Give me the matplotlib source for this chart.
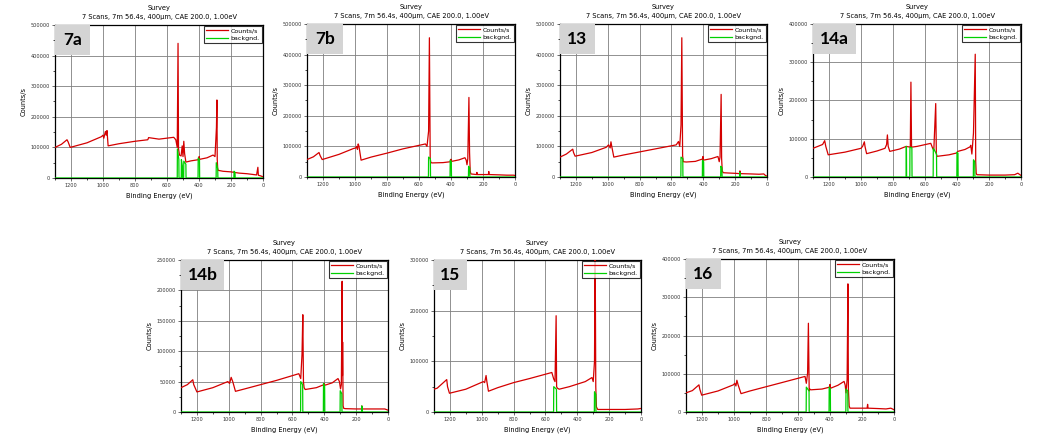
import matplotlib
matplotlib.use("Agg")
import matplotlib.pyplot as plt
from matplotlib.patches import Rectangle

# survey spectra, points (binding energy eV, counts/s)
be_7a = [1300, 1260, 1225, 1218, 1205, 1100, 1010, 1000, 995, 985, 980, 975, 968, 900, 800, 720, 715, 650, 558,
         545, 536, 531, 528, 522, 512, 505, 500, 495, 490, 482, 450, 402, 399, 396, 350, 312, 300, 291, 288, 286,
         283, 280, 250, 200, 150, 100, 40, 32, 29, 15, 0]
cps_7a = [100000, 110000, 125000, 118000, 100000, 115000, 135000, 140000, 130000, 152000, 140000, 155000, 105000,
          112000, 120000, 125000, 132000, 127000, 133000, 125000, 100000, 440000, 95000, 75000, 72000, 105000, 70000,
          120000, 80000, 52000, 56000, 60000, 70000, 61000, 66000, 75000, 70000, 165000, 255000, 60000, 30000,
          25000, 22000, 20000, 16000, 14000, 10000, 35000, 9000, 7000, 4000]
bg_be_7a = [1300, 536, 535, 526, 525, 511, 510, 504, 503, 496, 495, 482, 481, 406, 405, 397, 396, 293, 292, 283, 282,
            182, 181, 175, 174, 0]
bg_7a = [0, 0, 95000, 60000, 0, 0, 60000, 40000, 0, 0, 55000, 45000, 0, 0, 65000, 60000, 0, 0, 50000, 30000, 0,
         0, 22000, 18000, 0, 0]

be_7b = [1300, 1260, 1225, 1218, 1205, 1100, 1010, 995, 990, 985, 980, 975, 962, 900, 800, 700, 560, 550, 540, 535,
         530, 526, 520, 450, 402, 400, 397, 350, 313, 305, 300, 295, 288, 284, 280, 276, 240, 238, 236, 200, 166,
         164, 162, 100, 50, 10, 0]
cps_7b = [57000, 66000, 80000, 70000, 57000, 74000, 93000, 95000, 100000, 90000, 108000, 100000, 55000, 65000,
          78000, 92000, 108000, 100000, 150000, 455000, 60000, 48000, 46000, 47000, 50000, 58000, 51000, 56000,
          63000, 55000, 40000, 60000, 260000, 80000, 20000, 10000, 8000, 15000, 8000, 8000, 8000, 18000, 8000,
          7000, 6000, 6000, 5000]
bg_be_7b = [1300, 541, 540, 529, 528, 406, 405, 398, 397, 291, 290, 283, 282, 0]
bg_7b = [0, 0, 65000, 60000, 0, 0, 55000, 50000, 0, 0, 35000, 30000, 0, 0]

be_13 = [1300, 1260, 1220, 1215, 1205, 1100, 1010, 995, 985, 980, 975, 962, 900, 800, 700, 570, 556, 548, 540, 535,
         530, 526, 507, 450, 404, 402, 400, 350, 308, 300, 295, 288, 285, 281, 275, 240, 200, 172, 170, 168, 100,
         50, 20, 10, 0]
cps_13 = [65000, 75000, 91000, 80000, 68000, 80000, 97000, 105000, 95000, 115000, 100000, 65000, 72000, 82000,
          92000, 105000, 116000, 100000, 170000, 455000, 70000, 50000, 49000, 51000, 59000, 67000, 55000, 60000,
          67000, 50000, 65000, 270000, 60000, 20000, 14000, 13000, 12000, 11000, 20000, 11000, 10000, 9000, 10000,
          5000, 3000]
bg_be_13 = [1300, 541, 540, 529, 528, 406, 405, 398, 397, 291, 290, 283, 282, 172, 171, 168, 167, 0]
bg_13 = [0, 0, 65000, 60000, 0, 0, 55000, 50000, 0, 0, 35000, 30000, 0, 0, 15000, 12000, 0, 0]

be_14a = [1300, 1240, 1227, 1220, 1205, 1100, 1000, 990, 979, 975, 965, 900, 850, 840, 835, 830, 820, 760, 718,
          692, 688, 684, 650, 564, 552, 545, 533, 529, 525, 450, 400, 395, 350, 318, 314, 307, 297, 286, 283, 280,
          276, 200, 100, 40, 20, 0]
cps_14a = [75000, 85000, 95000, 80000, 58000, 65000, 75000, 80000, 92000, 80000, 61000, 68000, 75000, 85000,
           110000, 80000, 67000, 73000, 80000, 78000, 248000, 78000, 80000, 88000, 75000, 70000, 192000, 60000,
           54000, 58000, 63000, 67000, 72000, 79000, 83000, 60000, 115000, 321000, 40000, 10000, 6000, 5000, 5000,
           6000, 10000, 4000]
bg_be_14a = [1300, 718, 717, 716, 715, 695, 694, 682, 681, 549, 548, 528, 527, 401, 400, 394, 393, 298, 297, 289,
             288, 0]
bg_14a = [0, 0, 80000, 75000, 0, 0, 78000, 76000, 0, 0, 75000, 60000, 0, 0, 65000, 62000, 0, 0, 45000, 40000, 0, 0]

be_14b = [1300, 1260, 1226, 1220, 1200, 1100, 1006, 995, 985, 975, 958, 900, 800, 700, 560, 548, 540, 535, 531,
          527, 520, 450, 402, 400, 397, 350, 314, 305, 298, 293, 288, 286, 285, 282, 278, 268, 200, 166, 164, 162,
          100, 20, 10, 0]
cps_14b = [40000, 45000, 53000, 45000, 33000, 40000, 50000, 47000, 57000, 50000, 34000, 38000, 45000, 52000, 63000,
           55000, 95000, 160000, 50000, 40000, 37000, 40000, 45000, 47000, 44000, 48000, 55000, 50000, 38000, 45000,
           215000, 60000, 115000, 10000, 6000, 5500, 5000, 5000, 10000, 5000, 5000, 5000, 4000, 3000]
bg_be_14b = [1300, 549, 548, 536, 535, 406, 405, 398, 397, 301, 300, 290, 289, 166, 165, 163, 162, 0]
bg_14b = [0, 0, 50000, 45000, 0, 0, 47000, 42000, 0, 0, 35000, 30000, 0, 0, 10000, 8000, 0, 0]

be_15 = [1300, 1280, 1220, 1215, 1203, 1100, 990, 982, 973, 968, 958, 900, 800, 700, 560, 548, 540, 533, 530, 525,
         514, 450, 400, 350, 308, 300, 292, 288, 284, 280, 272, 200, 100, 20, 0]
cps_15 = [45000, 47000, 64000, 50000, 37000, 45000, 60000, 58000, 72000, 60000, 41000, 48000, 58000, 66000, 78000,
          65000, 60000, 190000, 50000, 47000, 45000, 50000, 55000, 60000, 68000, 60000, 100000, 330000, 50000,
          10000, 5000, 5000, 5000, 6000, 7000]
bg_be_15 = [1300, 549, 548, 531, 530, 293, 292, 284, 283, 0]
bg_15 = [0, 0, 50000, 45000, 0, 0, 40000, 35000, 0, 0]

be_16 = [1300, 1260, 1219, 1214, 1202, 1100, 1004, 995, 988, 982, 975, 956, 900, 800, 700, 556, 548, 540, 535, 530,
         526, 520, 450, 402, 400, 397, 350, 312, 305, 300, 293, 288, 285, 280, 275, 200, 168, 165, 162, 100, 50, 20,
         0]
cps_16 = [50000, 56000, 71000, 60000, 44000, 55000, 71000, 75000, 68000, 83000, 72000, 48000, 55000, 66000, 77000,
          93000, 75000, 102000, 232000, 55000, 60000, 58000, 60000, 65000, 72000, 62000, 70000, 80000, 70000, 50000,
          85000, 335000, 60000, 15000, 10000, 10000, 10000, 20000, 10000, 9000, 8000, 10000, 6000]
bg_be_16 = [1300, 549, 548, 531, 530, 406, 405, 398, 397, 301, 300, 289, 288, 0]
bg_16 = [0, 0, 65000, 55000, 0, 0, 65000, 60000, 0, 0, 60000, 55000, 0, 0]

panel_names = ["7a", "7b", "13", "14a", "14b", "15", "16"]
panel_ymax = [500000, 500000, 500000, 400000, 250000, 300000, 400000]
panel_ystep = [100000, 100000, 100000, 100000, 50000, 100000, 100000]
red_x = [be_7a, be_7b, be_13, be_14a, be_14b, be_15, be_16]
red_y = [cps_7a, cps_7b, cps_13, cps_14a, cps_14b, cps_15, cps_16]
green_x = [bg_be_7a, bg_be_7b, bg_be_13, bg_be_14a, bg_be_14b, bg_be_15, bg_be_16]
green_y = [bg_7a, bg_7b, bg_13, bg_14a, bg_14b, bg_15, bg_16]

# axes boxes in pixels: left, top, right, bottom
boxes = [(55, 25, 263, 178), (307, 24, 515, 177), (560, 24, 767, 177), (813, 24, 1021, 177),
         (181, 260, 388, 412), (434, 260, 641, 412), (686, 259, 894, 412)]
tag_w = [35, 36, 35, 43, 43, 33, 35]

W, H = 1064, 448
fig = plt.figure(figsize=(W / 100, H / 100), dpi=100)

for i, name in enumerate(panel_names):
    l, t, r, b = boxes[i]
    ax = fig.add_axes([l / W, 1 - b / H, (r - l) / W, (b - t) / H])
    ax.plot(red_x[i], red_y[i], color="#d40000", lw=0.9, label="Counts/s", zorder=3)
    ax.plot(green_x[i], green_y[i], color="#00d000", lw=0.9, label="backgnd.", zorder=4)
    ax.set_xlim(1300, 0)
    ax.set_ylim(0, panel_ymax[i])
    ax.set_xticks(range(1200, -1, -200))
    ax.set_xticks(range(1300, -1, -100), minor=True)
    yt = list(range(0, panel_ymax[i] + 1, panel_ystep[i]))
    ax.set_yticks(yt)
    ax.set_yticklabels([str(v) for v in yt])
    ax.set_yticks(range(0, panel_ymax[i] + 1, panel_ystep[i] // 2), minor=True)
    ax.tick_params(labelsize=3.6, length=2, width=0.5, pad=1.8, colors="#333333")
    ax.tick_params(which="minor", length=1.2, width=0.5)
    ax.grid(True, color="#7f7f7f", lw=0.6)
    for s in ax.spines.values():
        s.set_linewidth(0.9)
    ax.set_xlabel("Binding Energy (eV)", fontsize=4.8, labelpad=3)
    ax.set_ylabel("Counts/s", fontsize=4.8, labelpad=3)
    ax.set_title("Survey\n7 Scans, 7m 56.4s, 400\u00b5m, CAE 200.0, 1.00eV", fontsize=4.8, pad=4.5,
                 linespacing=1.6)
    leg = ax.legend(loc="upper right", fontsize=4.5, frameon=True, fancybox=False, edgecolor="black",
                    borderaxespad=0.15, handlelength=3.5, borderpad=0.35, labelspacing=0.35, handletextpad=0.5)
    leg.get_frame().set_linewidth(0.8)
    leg.set_zorder(6)
    aw, ah = r - l, b - t
    ax.add_patch(Rectangle((0, 1 - 30 / ah), tag_w[i] / aw, 30 / ah, transform=ax.transAxes,
                           facecolor="#d4d4d4", edgecolor="none", zorder=5))
    ax.text(tag_w[i] / aw / 2, 1 - 15 / ah, name, transform=ax.transAxes, ha="center", va="center",
            fontsize=12.5, fontweight="bold", family=["Lato", "DejaVu Sans"], zorder=6)

plt.savefig("out.png", dpi=100)
